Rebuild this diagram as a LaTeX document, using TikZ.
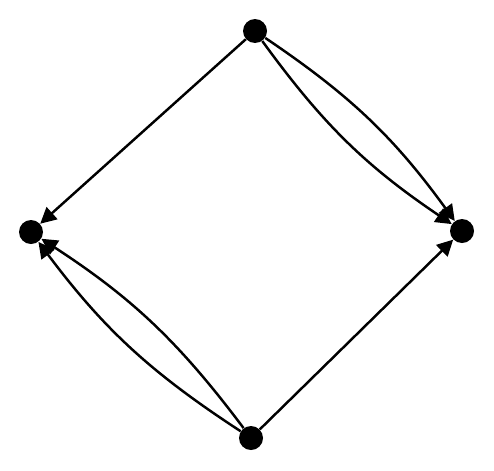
\documentclass[tikz,border=0pt]{standalone}
\usetikzlibrary{arrows.meta}

\begin{document}
\begin{tikzpicture}[vertex/.style={circle,fill=black,inner sep=0pt,minimum size=0.48cm},
    edge/.style={-{Triangle[length=0.32cm,width=0.32cm]},line width=1.4pt}]
    \useasboundingbox(0,0)rectangle(9.88,9.4);
    \node[vertex](t)at(5.10,8.78){};
    \node[vertex](l)at(0.62,4.76){};
    \node[vertex](r)at(9.24,4.78){};
    \node[vertex](b)at(5.02,0.64){};

    \draw[edge](t)--(l);
    \draw[edge](t)to[bend left=10](r);
    \draw[edge](t)to[bend right=10](r);
    \draw[edge](b)to[bend left=10](l);
    \draw[edge](b)to[bend right=10](l);
    \draw[edge](b)--(r);
\end{tikzpicture}
\end{document}
